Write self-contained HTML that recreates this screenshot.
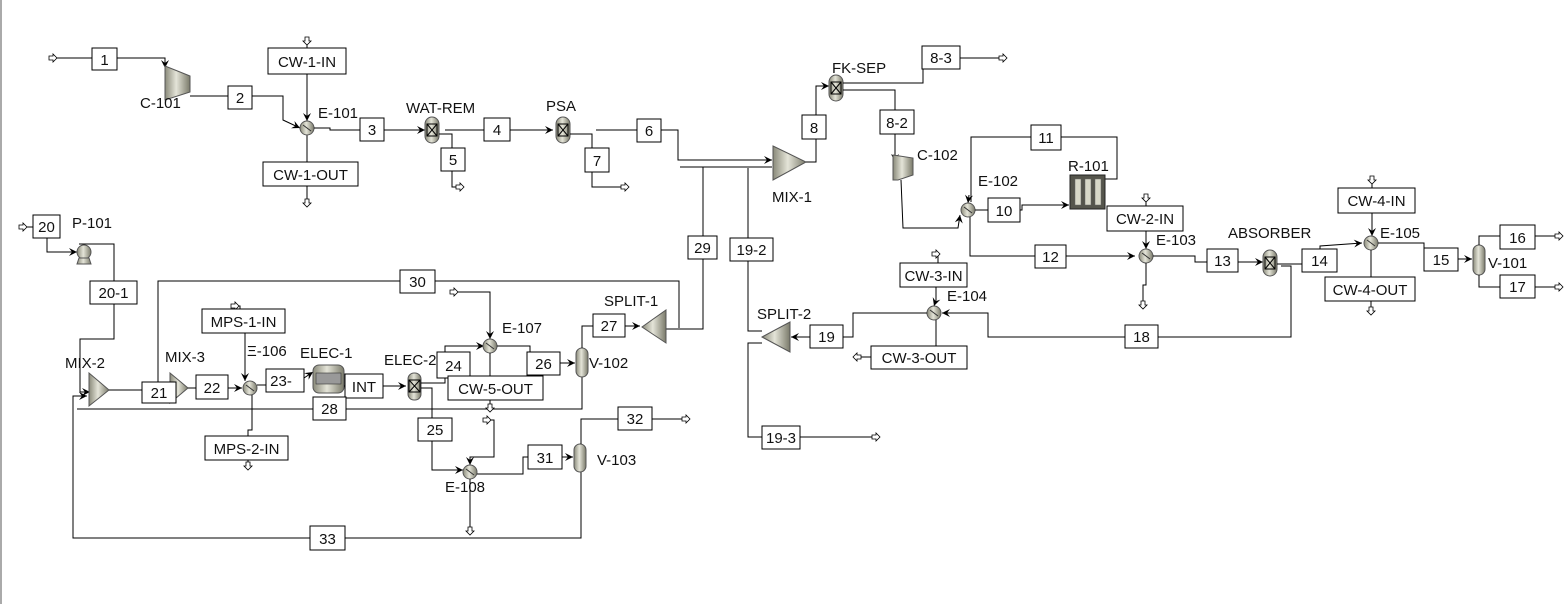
<!DOCTYPE html>
<html><head><meta charset="utf-8"><style>
html,body{margin:0;padding:0;background:#fff}
svg{display:block}
text{font-family:"Liberation Sans",Arial,sans-serif;font-size:15px;fill:#111}
.b{fill:#fff;stroke:#000;stroke-width:1}
.l{fill:none;stroke:#000;stroke-width:1}
.t{text-anchor:middle;font-size:15px}
.eq{fill:url(#g);stroke:#555;stroke-width:1}
</style></head><body>
<svg width="1568" height="604" viewBox="0 0 1568 604" xmlns="http://www.w3.org/2000/svg">
<defs>
<linearGradient id="g" x1="0" x2="1" y1="0" y2="0"><stop offset="0" stop-color="#8a8a7a"/><stop offset="0.45" stop-color="#e4e4d8"/><stop offset="1" stop-color="#7a7a6a"/></linearGradient>
<marker id="a" markerWidth="10" markerHeight="10" refX="9" refY="5" orient="auto" markerUnits="userSpaceOnUse"><path d="M1,1 L9,5 L1,9 L4,5 Z" fill="#000"/></marker>
<marker id="o" markerWidth="10" markerHeight="10" refX="2" refY="5" orient="auto" markerUnits="userSpaceOnUse"><path d="M1,3 L5,3 L5,1 L9,5 L5,9 L5,7 L1,7 Z" fill="#fff" stroke="#000" stroke-width="0.8"/></marker>
</defs>
<line x1="1" y1="0" x2="1" y2="604" stroke="#aaa" stroke-width="2"/>

<!-- ===== top row ===== -->
<polyline class="l" points="50,58 165,58 165,68" marker-start="url(#o)" marker-end="url(#a)"/>
<polygon class="eq" points="165,66 190,76 190,92 165,100"/>
<text x="140" y="108">C-101</text>
<polyline class="l" points="190,96 283,96 283,120 300,128" marker-end="url(#a)"/>
<polyline class="l" points="307,38 307,48" marker-start="url(#o)"/>
<polyline class="l" points="307,74 307,121" marker-end="url(#a)"/>
<polyline class="l" points="307,134 307,200" marker-end="url(#o)"/>
<circle class="eq" cx="307" cy="128" r="7"/><line x1="303" y1="125" x2="311" y2="131" stroke="#333"/>
<text x="318" y="118">E-101</text>
<polyline class="l" points="314,128 330,128 330,130 425,130" marker-end="url(#a)"/>
<rect class="eq" x="425" y="117" width="14" height="26" rx="7"/><path d="M427,124 h10 v12 h-10 z M427,124 L437,136 M437,124 L427,136" class="l" stroke-width="0.8"/>
<text x="406" y="113">WAT-REM</text>
<polyline class="l" points="445,130 553,130" marker-end="url(#a)"/>
<polyline class="l" points="439,134 452,134 452,187 457,187" marker-end="url(#o)"/>
<rect class="eq" x="556" y="117" width="14" height="26" rx="7"/><path d="M558,124 h10 v12 h-10 z M558,124 L568,136 M568,124 L558,136" class="l" stroke-width="0.8"/>
<text x="546" y="111">PSA</text>
<polyline class="l" points="570,134 592,134 592,187 622,187" marker-end="url(#o)"/>
<polyline class="l" points="596,130 678,130 678,160 772,160" marker-end="url(#a)"/>
<polyline class="l" points="680,167 772,167"/>
<polygon class="eq" points="773,146 806,162 773,180"/>
<text x="772" y="202">MIX-1</text>
<polyline class="l" points="806,162 816,162 816,86 829,86" marker-end="url(#a)"/>
<rect class="eq" x="829" y="75" width="14" height="26" rx="7"/><path d="M831,82 h10 v12 h-10 z M831,82 L841,94 M841,82 L831,94" class="l" stroke-width="0.8"/>
<text x="832" y="73">FK-SEP</text>
<polyline class="l" points="843,83 923,83 923,58 1000,58" marker-end="url(#o)"/>
<polyline class="l" points="843,90 895,90 895,162" marker-end="url(#a)"/>
<polygon class="eq" points="893,155 913,158 913,175 898,180 893,180"/>
<text x="917" y="160">C-102</text>
<polyline class="l" points="901,180 903,228 958,228 960,215" marker-end="url(#a)"/>
<polyline class="l" points="971,202 971,137 1117,137 1117,179 1105,179"/>
<line class="l" x1="969" y1="195" x2="968" y2="203" marker-end="url(#a)"/>
<circle class="eq" cx="968" cy="210" r="7"/><line x1="964" y1="207" x2="972" y2="213" stroke="#333"/>
<text x="978" y="186">E-102</text>
<polyline class="l" points="975,210 1022,210 1022,205 1069,205" marker-end="url(#a)"/>
<rect x="1070" y="175" width="35" height="34" fill="#55554c" stroke="#222"/>
<g fill="#d8d8c8" stroke="#666" stroke-width="0.5"><rect x="1075" y="179" width="6" height="26"/><rect x="1085" y="179" width="6" height="26"/><rect x="1095" y="179" width="6" height="26"/></g>
<text x="1068" y="171">R-101</text>
<polyline class="l" points="970,217 970,256 1135,256" marker-end="url(#a)"/>
<polyline class="l" points="1146,195 1146,206" marker-start="url(#o)"/>
<polyline class="l" points="1146,231 1146,249" marker-end="url(#a)"/>
<circle class="eq" cx="1146" cy="256" r="7"/><line x1="1142" y1="253" x2="1150" y2="259" stroke="#333"/>
<polyline class="l" points="1146,263 1146,285 1143,285 1143,302" marker-end="url(#o)"/>
<text x="1156" y="245">E-103</text>
<polyline class="l" points="1153,256 1195,256 1195,262 1263,262" marker-end="url(#a)"/>
<rect class="eq" x="1263" y="250" width="14" height="26" rx="7"/><path d="M1265,257 h10 v12 h-10 z M1265,257 L1275,269 M1275,257 L1265,269" class="l" stroke-width="0.8"/>
<text x="1228" y="238">ABSORBER</text>
<polyline class="l" points="1277,264 1302,264"/>
<polyline class="l" points="1320,250 1320,246 1362,243" marker-end="url(#a)"/>
<polyline class="l" points="1372,177 1372,188" marker-start="url(#o)"/>
<polyline class="l" points="1372,213 1372,236" marker-end="url(#a)"/>
<circle class="eq" cx="1371" cy="243" r="7"/><line x1="1367" y1="240" x2="1375" y2="246" stroke="#333"/>
<polyline class="l" points="1371,250 1371,308" marker-end="url(#o)"/>
<text x="1380" y="238">E-105</text>
<polyline class="l" points="1378,243 1424,243 1424,259 1472,259" marker-end="url(#a)"/>
<rect class="eq" x="1473" y="245" width="12" height="30" rx="6"/>
<text x="1488" y="268">V-101</text>
<polyline class="l" points="1479,245 1479,236 1556,236" marker-end="url(#o)"/>
<polyline class="l" points="1479,275 1479,287 1556,287" marker-end="url(#o)"/>
<polyline class="l" points="1281,266 1291,266 1291,337 988,337 988,313 942,313" marker-end="url(#a)"/>
<polyline class="l" points="933,254 938,254 938,263" marker-start="url(#o)"/>
<polyline class="l" points="936,287 936,300 934,306" marker-end="url(#a)"/>
<circle class="eq" cx="934" cy="313" r="7"/><line x1="930" y1="310" x2="938" y2="316" stroke="#333"/>
<text x="947" y="301">E-104</text>
<polyline class="l" points="936,320 936,346"/>
<polyline class="l" points="871,357 860,357" marker-end="url(#o)"/>
<polyline class="l" points="927,313 853,313 853,337 791,337" marker-end="url(#a)"/>
<polygon class="eq" points="790,322 790,352 762,337"/>
<text x="757" y="319">SPLIT-2</text>
<polyline class="l" points="748,168 748,331 762,331"/>
<polyline class="l" points="762,343 748,343 748,437 873,437" marker-end="url(#o)"/>
<polyline class="l" points="703,167 703,329 666,329"/>

<!-- ===== lower left ===== -->
<polyline class="l" points="20,227 33,227" marker-start="url(#o)"/>
<polyline class="l" points="47,238 47,252 77,252" marker-end="url(#a)"/>
<circle class="eq" cx="84" cy="252" r="7"/><polygon class="eq" points="79,258 89,258 91,264 77,264"/>
<text x="72" y="228">P-101</text>
<polyline class="l" points="79,244 114,244 114,339 80,339 80,392 90,392" marker-end="url(#a)"/>
<polygon class="eq" points="89,373 109,390 89,406"/>
<text x="65" y="368">MIX-2</text>
<polyline class="l" points="581,468 581,538 73,538 73,396 87,396" marker-end="url(#a)"/>
<polyline class="l" points="582,376 582,409 77,409"/>
<polyline class="l" points="109,390 172,390" marker-end="url(#a)"/>
<polyline class="l" points="679,328 679,281 158,281 158,386 168,386" marker-end="url(#a)"/>
<polygon class="eq" points="170,373 188,388 170,403"/>
<text x="165" y="362">MIX-3</text>
<polyline class="l" points="188,388 242,388" marker-end="url(#a)"/>
<polyline class="l" points="232,306 240,306 240,309" marker-start="url(#o)"/>
<polyline class="l" points="245,333 245,381" marker-end="url(#a)"/>
<circle class="eq" cx="250" cy="388" r="7"/><line x1="246" y1="385" x2="254" y2="391" stroke="#333"/>
<text x="247" y="356">Ξ-106</text>
<polyline class="l" points="252,395 252,430 248,430 248,436"/>
<polyline class="l" points="248,460 248,463" marker-end="url(#o)"/>
<polyline class="l" points="257,385 304,385 304,378 313,372" marker-end="url(#a)"/>
<rect x="313" y="365" width="31" height="28" rx="6" fill="url(#g)" stroke="#555"/>
<rect x="316" y="373" width="25" height="11" fill="#999" stroke="#333" stroke-width="0.6"/>
<text x="300" y="358">ELEC-1</text>
<polyline class="l" points="344,386 406,386" marker-end="url(#a)"/>
<rect class="eq" x="408" y="373" width="13" height="27" rx="6"/><path d="M409,380 h11 v12 h-11 z M409,380 L420,392 M420,380 L409,392" class="l" stroke-width="0.8"/>
<text x="384" y="365">ELEC-2</text>
<polyline class="l" points="421,383 445,383 445,346 484,346" marker-end="url(#a)"/>
<polyline class="l" points="451,292 490,292 490,339" marker-start="url(#o)" marker-end="url(#a)"/>
<circle class="eq" cx="490" cy="346" r="7"/><line x1="486" y1="343" x2="494" y2="349" stroke="#333"/>
<text x="502" y="333">E-107</text>
<polyline class="l" points="490,353 490,405" marker-end="url(#o)"/>
<polyline class="l" points="497,346 530,346 530,363 575,363" marker-end="url(#a)"/>
<rect class="eq" x="576" y="348" width="12" height="29" rx="6"/>
<text x="589" y="368">V-102</text>
<polyline class="l" points="582,348 582,326 640,326" marker-end="url(#a)"/>
<polygon class="eq" points="666,310 666,343 642,327"/>
<text x="604" y="306">SPLIT-1</text>
<polyline class="l" points="421,388 432,388 432,470 463,470" marker-end="url(#a)"/>
<polyline class="l" points="484,420 494,420 494,457 470,457 470,465" marker-start="url(#o)" marker-end="url(#a)"/>
<circle class="eq" cx="470" cy="472" r="7"/><line x1="466" y1="469" x2="474" y2="475" stroke="#333"/>
<text x="445" y="492">E-108</text>
<polyline class="l" points="470,479 470,528" marker-end="url(#o)"/>
<polyline class="l" points="477,474 523,474 523,457 573,457" marker-end="url(#a)"/>
<rect class="eq" x="574" y="444" width="12" height="28" rx="6"/>
<text x="597" y="465">V-103</text>
<polyline class="l" points="581,444 581,419 683,419" marker-end="url(#o)"/>

<!-- ===== boxes ===== -->
<g>
<rect class="b" x="92" y="48" width="25" height="22"/><text class="t" x="104.5" y="65">1</text>
<rect class="b" x="228" y="86" width="24" height="23"/><text class="t" x="240" y="103">2</text>
<rect class="b" x="268" y="48" width="78" height="26"/><text class="t" x="307" y="67">CW-1-IN</text>
<rect class="b" x="360" y="118" width="24" height="23"/><text class="t" x="372" y="135">3</text>
<rect class="b" x="263" y="162" width="95" height="24"/><text class="t" x="310.5" y="180">CW-1-OUT</text>
<rect class="b" x="484" y="118" width="26" height="23"/><text class="t" x="497" y="135">4</text>
<rect class="b" x="441" y="148" width="24" height="23"/><text class="t" x="453" y="165">5</text>
<rect class="b" x="585" y="148" width="24" height="24"/><text class="t" x="597" y="166">7</text>
<rect class="b" x="637" y="119" width="24" height="23"/><text class="t" x="649" y="136">6</text>
<rect class="b" x="802" y="115" width="24" height="24"/><text class="t" x="814" y="133">8</text>
<rect class="b" x="922" y="46" width="38" height="23"/><text class="t" x="941" y="63">8-3</text>
<rect class="b" x="880" y="110" width="34" height="24"/><text class="t" x="897" y="128">8-2</text>
<rect class="b" x="1031" y="125" width="30" height="25"/><text class="t" x="1046" y="143">11</text>
<rect class="b" x="988" y="198" width="32" height="24"/><text class="t" x="1004" y="216">10</text>
<rect class="b" x="1107" y="206" width="76" height="25"/><text class="t" x="1145" y="224">CW-2-IN</text>
<rect class="b" x="1035" y="245" width="31" height="23"/><text class="t" x="1050.5" y="262">12</text>
<rect class="b" x="1207" y="249" width="31" height="23"/><text class="t" x="1222.5" y="266">13</text>
<rect class="b" x="1302" y="249" width="35" height="23"/><text class="t" x="1319.5" y="266">14</text>
<rect class="b" x="1338" y="188" width="77" height="25"/><text class="t" x="1376.5" y="206">CW-4-IN</text>
<rect class="b" x="1325" y="277" width="90" height="24"/><text class="t" x="1370" y="295">CW-4-OUT</text>
<rect class="b" x="1424" y="248" width="34" height="23"/><text class="t" x="1441" y="265">15</text>
<rect class="b" x="1500" y="225" width="35" height="24"/><text class="t" x="1517.5" y="243">16</text>
<rect class="b" x="1500" y="275" width="35" height="23"/><text class="t" x="1517.5" y="292">17</text>
<rect class="b" x="1125" y="325" width="33" height="23"/><text class="t" x="1141.5" y="342">18</text>
<rect class="b" x="900" y="263" width="67" height="24"/><text class="t" x="933.5" y="281">CW-3-IN</text>
<rect class="b" x="871" y="346" width="96" height="23"/><text class="t" x="919" y="363">CW-3-OUT</text>
<rect class="b" x="810" y="325" width="33" height="23"/><text class="t" x="826.5" y="342">19</text>
<rect class="b" x="688" y="236" width="29" height="23"/><text class="t" x="702.5" y="253">29</text>
<rect class="b" x="730" y="238" width="43" height="23"/><text class="t" x="751.5" y="255">19-2</text>
<rect class="b" x="762" y="426" width="38" height="23"/><text class="t" x="781" y="443">19-3</text>
<rect class="b" x="33" y="215" width="27" height="23"/><text class="t" x="46.5" y="232">20</text>
<rect class="b" x="90" y="281" width="47" height="23"/><text class="t" x="113.5" y="298">20-1</text>
<rect class="b" x="400" y="270" width="35" height="23"/><text class="t" x="417.5" y="287">30</text>
<rect class="b" x="202" y="309" width="83" height="24"/><text class="t" x="243.5" y="327">MPS-1-IN</text>
<rect class="b" x="142" y="382" width="34" height="21"/><text class="t" x="159" y="398">21</text>
<rect class="b" x="196" y="375" width="32" height="24"/><text class="t" x="212" y="393">22</text>
<rect class="b" x="266" y="369" width="38" height="23"/><text class="t" x="281" y="386">23-</text>
<rect class="b" x="345" y="374" width="38" height="24"/><text class="t" x="364" y="392">INT</text>
<rect class="b" x="313" y="397" width="33" height="23"/><text class="t" x="329.5" y="414">28</text>
<rect class="b" x="205" y="436" width="83" height="24"/><text class="t" x="246.5" y="454">MPS-2-IN</text>
<rect class="b" x="437" y="352" width="33" height="26"/><text class="t" x="453.5" y="371">24</text>
<rect class="b" x="448" y="376" width="95" height="24"/><text class="t" x="495.5" y="394">CW-5-OUT</text>
<rect class="b" x="527" y="352" width="33" height="23"/><text class="t" x="543.5" y="369">26</text>
<rect class="b" x="593" y="314" width="32" height="23"/><text class="t" x="609" y="331">27</text>
<rect class="b" x="418" y="418" width="34" height="23"/><text class="t" x="435" y="435">25</text>
<rect class="b" x="618" y="407" width="34" height="23"/><text class="t" x="635" y="424">32</text>
<rect class="b" x="528" y="445" width="34" height="24"/><text class="t" x="545" y="463">31</text>
<rect class="b" x="310" y="526" width="35" height="24"/><text class="t" x="327.5" y="544">33</text>
</g>
</svg>
</body></html>
